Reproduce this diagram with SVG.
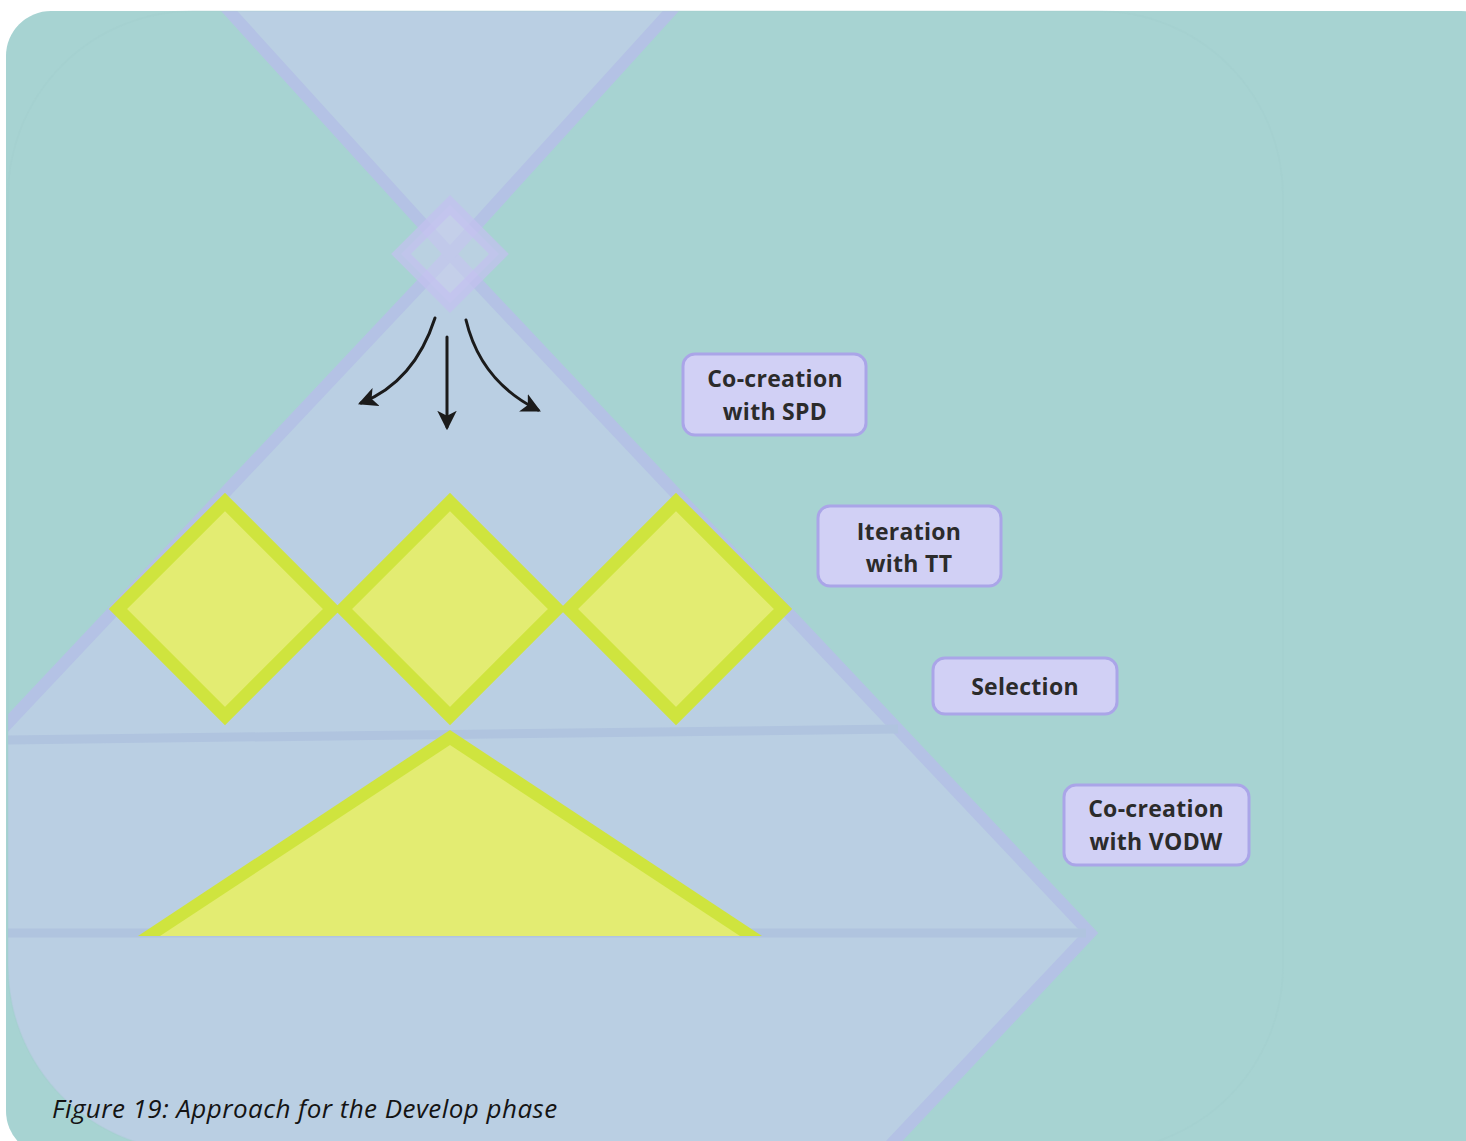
<svg xmlns="http://www.w3.org/2000/svg" width="1466" height="1141" viewBox="0 0 1466 1141">
  <style>
    .band { fill: #bacfe3; stroke: #b4c2e5; stroke-width: 12; stroke-linejoin: miter; }
    .rule { stroke: #b0c4df; stroke-width: 9; fill: none; }
    .gem { fill: #e3ec72; stroke: #cfe43e; stroke-width: 13; stroke-linejoin: miter; }
    .tag rect { fill: #d1d0f5; stroke: #aaa5e8; stroke-width: 3; }
    .tag text { font-family: "Open Sans", "Liberation Sans", sans-serif; font-weight: 700; font-size: 23px; fill: #2b2b2b; text-anchor: middle; letter-spacing: 0.3px; }
    .flow { fill: none; stroke: #1b1b1b; stroke-width: 3; stroke-linecap: round; }
    .caption { font-family: "Open Sans", "Liberation Sans", sans-serif; font-style: italic; font-size: 26px; letter-spacing: 0.45px; fill: #141414; }
  </style>
  <defs>
    <clipPath id="panel">
      <rect x="8" y="11" width="1275" height="1140" rx="185" ry="185"/>
    </clipPath>
    <marker id="head" viewBox="0 0 12 12" refX="10" refY="6" markerWidth="6.5" markerHeight="6.5" orient="auto" markerUnits="strokeWidth">
      <path d="M0,0 L12,6 L0,12 L3,6 Z" fill="#1b1b1b"/>
    </marker>
  </defs>

  <!-- teal card -->
  <rect x="6" y="11" width="1500" height="1145" rx="45" ry="45" fill="#a7d3d2"/>

  <!-- funnel bands, clipped to the inner panel -->
  <g id="funnel" clip-path="url(#panel)">
    <polygon class="band" points="450,254 1090,933 450,1613 -190,933"/>
    <polygon class="band" points="450,254 699,-20 201,-20"/>
    <line class="rule" x1="0" y1="740" x2="898" y2="729"/>
    <line class="rule" x1="0" y1="933" x2="1086" y2="933"/>
  </g>
  <rect x="8" y="11" width="1275" height="1140" rx="185" ry="185" fill="none" stroke="#9fcccb" stroke-opacity="0.25" stroke-width="1.5"/>

  <!-- small entry diamond -->
  <g id="entry">
    <polygon points="450,205 499,254 450,303 401,254" fill="#cdd0f0" fill-opacity="0.5" stroke="#c3c0f0" stroke-opacity="0.7" stroke-width="14"/>
  </g>

  <!-- idea diamonds -->
  <g id="idea-1"><polygon class="gem" points="225,502 332,609 225,716 118,609"/></g>
  <g id="idea-2"><polygon class="gem" points="450,502 557,609 450,716 343,609"/></g>
  <g id="idea-3"><polygon class="gem" points="676,502 783,609 676,716 569,609"/></g>

  <!-- selected concept -->
  <g id="concept">
    <polygon points="138,936 450,730 762,936" fill="#cfe43e"/>
    <polygon points="160,936 450,745 740,936" fill="#e3ec72"/>
  </g>

  <!-- connectors -->
  <g id="connectors">
    <path class="flow" d="M435,318 C424,352 404,386 361,403" marker-end="url(#head)"/>
    <path class="flow" d="M447,337 L447,427" marker-end="url(#head)"/>
    <path class="flow" d="M466,320 C475,358 498,390 538,410" marker-end="url(#head)"/>
  </g>

  <!-- labels -->
  <g id="label-spd" class="tag">
    <rect x="683" y="354" width="183" height="81" rx="12"/>
    <text x="775" y="387">Co-creation</text>
    <text x="775" y="420">with SPD</text>
  </g>
  <g id="label-tt" class="tag">
    <rect x="818" y="506" width="183" height="80" rx="12"/>
    <text x="909" y="540">Iteration</text>
    <text x="909" y="572">with TT</text>
  </g>
  <g id="label-selection" class="tag">
    <rect x="933" y="658" width="184" height="56" rx="12"/>
    <text x="1025" y="695">Selection</text>
  </g>
  <g id="label-vodw" class="tag">
    <rect x="1064" y="785" width="185" height="80" rx="12"/>
    <text x="1156" y="817">Co-creation</text>
    <text x="1156" y="850">with VODW</text>
  </g>

  <text class="caption" x="52" y="1118">Figure 19: Approach for the Develop phase</text>
</svg>
